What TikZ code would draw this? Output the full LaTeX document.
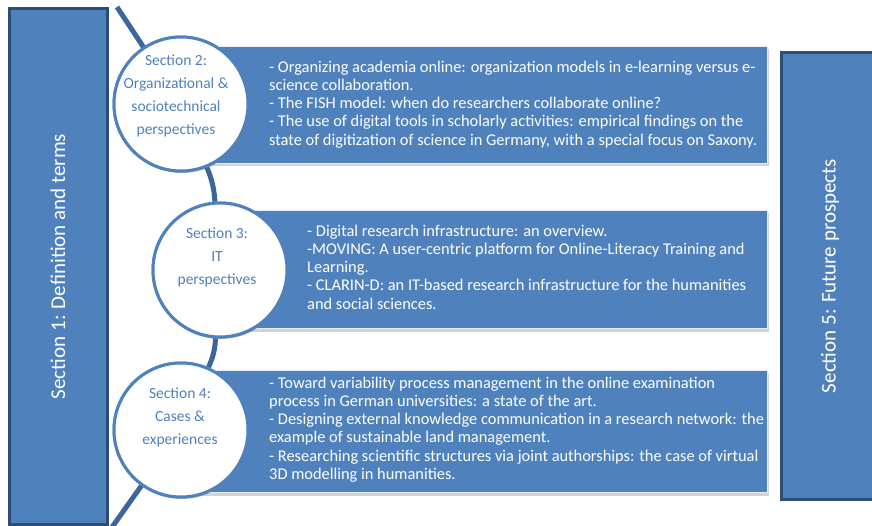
\documentclass[tikz,border=0pt]{standalone}
\usepackage{fontspec}
\setmainfont{Carlito}
\usetikzlibrary{shadows}
\definecolor{secblue}{HTML}{4F81BD}
\definecolor{darkblue}{HTML}{2C4D75}
\definecolor{lineblue}{HTML}{3B659B}

\tikzset{
  sidebox/.style={draw=darkblue, line width=3pt, fill=secblue, text=white,
    font=\fontsize{21}{24}\selectfont},
  listbox/.style={fill=secblue, draw=white!85!secblue, line width=1pt,
    drop shadow={shadow xshift=1.5pt, shadow yshift=-3pt, opacity=0.35}},
  listtext/.style={text=white, align=left, inner sep=0pt,
    font=\fontsize{16.4}{18.2}\selectfont},
  seccircle/.style={circle, draw=secblue, line width=3pt, fill=white,
    minimum size=134pt, inner sep=0pt,
    drop shadow={shadow xshift=1pt, shadow yshift=-2pt, opacity=0.25}},
  circtext/.style={text=secblue, align=center, inner sep=0pt,
    font=\fontsize{15.5}{23}\selectfont},
  conn/.style={draw=lineblue, line width=5pt}
}

\begin{document}
\begin{tikzpicture}[x=1pt, y=-1pt]
    \useasboundingbox (0,0) rectangle (872,526);
    \clip (0,0) rectangle (872,526);

    \coordinate (ctop) at (117,7);
    \coordinate (cbot) at (110,530);

    % circles first, so the connector can run between them
    \node[seccircle] (c2) at (181,104) {};
    \node[seccircle] (c3) at (220,270) {};
    \node[seccircle] (c4) at (181,430) {};

    \draw[conn] (ctop) -- (c2);
    \draw[conn] (c2) to[bend left=9] (c3);
    \draw[conn] (c3) to[bend left=10] (c4);
    \draw[conn] (c4) -- (cbot);

    \node[sidebox, rotate=90, minimum width=515pt, minimum height=98pt] (s1) at (58,266.5) {Section 1: Definition and terms};
    \node[sidebox, rotate=90, minimum width=447pt, minimum height=98pt] (s5) at (830,276) {Section 5: Future prospects};

    \node[listbox, anchor=north west, minimum width=557pt, minimum height=117pt] (b2) at (210,46) {};
    \node[listbox, anchor=north west, minimum width=547pt, minimum height=118pt] (b3) at (220,210) {};
    \node[listbox, anchor=north west, minimum width=586pt, minimum height=122pt] (b4) at (181,370) {};

    \node[listtext, anchor=west] (t2) at (269,104.5) {- Organizing academia online: organization models in e-learning versus e-\\science collaboration.\\- The FISH model: when do researchers collaborate online?\\- The use of digital tools in scholarly activities: empirical findings on the\\state of digitization of science in Germany, with a special focus on Saxony.};
    \node[listtext, anchor=west] (t3) at (307,267) {- Digital research infrastructure: an overview.\\-MOVING: A user-centric platform for Online-Literacy Training and\\Learning.\\- CLARIN-D: an IT-based research infrastructure for the humanities\\and social sciences.};
    \node[listtext, anchor=west] (t4) at (269,429.5) {- Toward variability process management in the online examination\\process in German universities: a state of the art.\\- Designing external knowledge communication in a research network: the\\example of sustainable land management.\\- Researching scientific structures via joint authorships: the case of virtual\\3D modelling in humanities.};

    % circles again on top of the boxes
    \node[seccircle] (c2f) at (c2) {};
    \node[seccircle] (c3f) at (c3) {};
    \node[seccircle] (c4f) at (c4) {};
    \node[circtext] (l2) at (176,96) {Section 2:\\Organizational \&\\sociotechnical\\perspectives};
    \node[circtext] (l3) at (217,257) {Section 3:\\IT\\perspectives};
    \node[circtext] (l4) at (180,417) {Section 4:\\Cases \&\\experiences};
\end{tikzpicture}
\end{document}
